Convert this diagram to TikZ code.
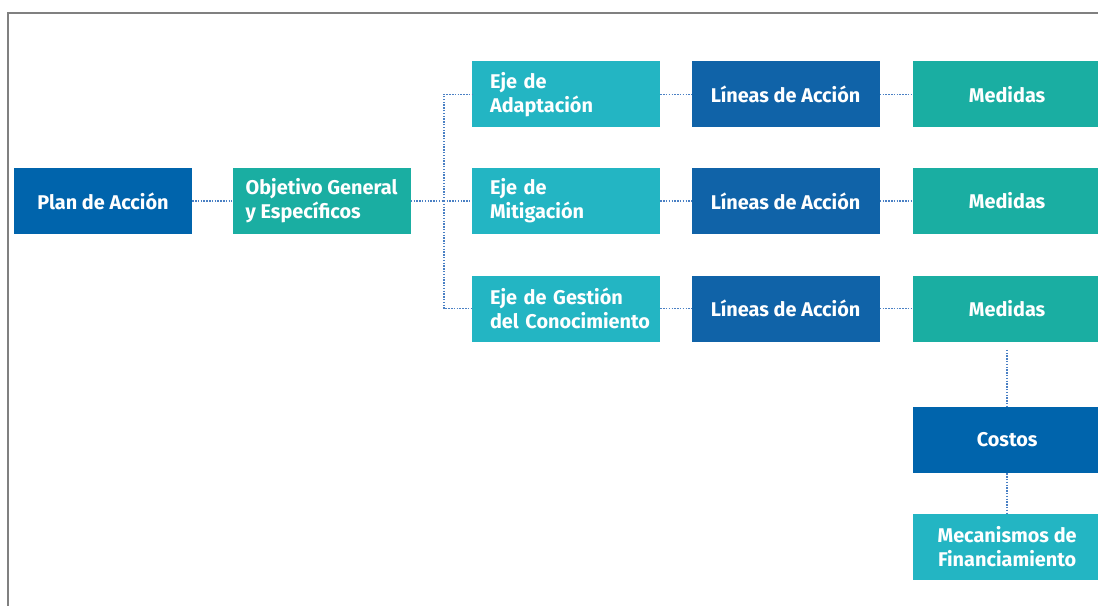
\documentclass[tikz,border=0pt]{standalone}
\usepackage{fontspec}
\setmainfont{Fira Sans}
\usetikzlibrary{positioning}

\definecolor{planblue}{HTML}{0064AC}
\definecolor{lineablue}{HTML}{1063A8}
\definecolor{medteal}{HTML}{1AAEA2}
\definecolor{ejecyan}{HTML}{23B5C3}
\definecolor{dotblue}{HTML}{4A80C4}
\definecolor{framegray}{HTML}{808080}

\begin{document}
\begin{tikzpicture}[x=0.75pt, y=-0.75pt,
  box/.style={rectangle, minimum height=49.5pt, inner sep=0pt, text=white, font=\bfseries\fontsize{14.9}{18}\selectfont},
  widebox/.style={box, minimum width=141pt},
  ejebox/.style={widebox, fill=ejecyan, align=left, text width=114pt},
  link/.style={dotblue, densely dotted, line width=1.1pt}]
\useasboundingbox (0,0) rectangle (1098,606);
\draw [framegray, line width=1.2pt] (8,606) -- (8,13) -- (1098,13);

% left part
\node [box, minimum width=133.5pt, fill=planblue, align=center] (plan) at (103,201) {Plan de Acción};
\node [box, minimum width=133.5pt, fill=medteal, align=left, right=30pt of plan] (obj) {Objetivo General\\y Específicos};

% ejes
\node [ejebox, right=45.75pt of obj] (eje2) {Eje de\\Mitigación};
\node [ejebox, above=30pt of eje2] (eje1) {Eje de\\Adaptación};
\node [ejebox, below=30.75pt of eje2] (eje3) {Eje de Gestión\\\mbox{del Conocimiento}};

% lineas and medidas
\foreach \i in {1,2,3} {
  \node [widebox, fill=lineablue, align=center, right=23.25pt of eje\i] (lin\i) {Líneas de Acción};
  \node [widebox, fill=medteal, align=center, right=24.75pt of lin\i] (med\i) {Medidas};
}
\node [widebox, fill=planblue, align=center, below=48.75pt of med3] (cost) {Costos};
\node [widebox, fill=ejecyan, align=center, below=30pt of cost] (fin) {Mecanismos de\\Financiamiento};

% connectors
\coordinate [right=24.75pt of obj.east] (fork);
\draw [link] (plan) -- (obj);
\draw [link] (obj) -- (fork);
\draw [link] (fork) |- (eje1);
\draw [link] (fork) -- (eje2);
\draw [link] (fork) |- (eje3);
\foreach \i in {1,2,3} {
  \draw [link] (eje\i) -- (lin\i);
  \draw [link] (lin\i) -- (med\i);
}
\draw [link, shorten <=6pt] (med3) -- (cost);
\draw [link] (cost) -- (fin);
\end{tikzpicture}
\end{document}
